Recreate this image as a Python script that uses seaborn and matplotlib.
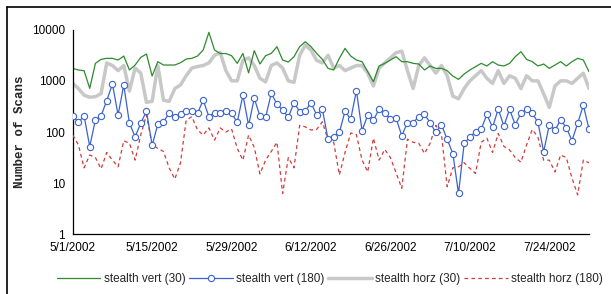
import numpy as np
import pandas as pd
import matplotlib
matplotlib.use("Agg")
import matplotlib.pyplot as plt
from matplotlib.lines import Line2D
import seaborn as sns

# daily values, 5/1/2002 .. 7/31/2002
dates = pd.date_range("2002-05-01", "2002-07-31", freq="D")

vert_30 = [1755, 1629, 1580, 713, 2198, 2633, 2753, 2753, 2553, 3055,
           1629, 2039, 2879, 3343, 1242, 2370, 2039, 2039, 2039, 2263,
           2672, 2753, 3055, 4006, 8870, 4006, 3420, 3420, 3105, 2198,
           3440, 1432, 3890, 2134, 3105, 3440, 4655, 2553, 2334, 2966,
           4655, 5826, 4655, 3440, 2633, 1755, 1629, 2753, 4316, 3055,
           2553, 2370, 1509, 963, 1950, 2198, 2553, 2966, 2370, 2370,
           2198, 2134, 1629, 1950, 1755, 1755, 1580, 1242, 1069, 1361,
           1629, 1892, 2198, 1950, 2370, 2039, 1950, 2198, 2966, 3714,
           2633, 2370, 1950, 2134, 1755, 2039, 2370, 1950, 2370, 2753,
           2553, 1509]

vert_180 = [208, 155, 208, 52, 172, 208, 410, 867, 215, 829,
            148, 81, 148, 257, 55, 141, 159, 232, 200, 221,
            257, 257, 232, 422, 200, 239, 232, 257, 232, 155,
            528, 135, 455, 205, 194, 570, 352, 269, 194, 374,
            250, 257, 374, 215, 282, 72, 81, 98, 257, 177,
            642, 106, 215, 172, 277, 232, 180, 185, 85, 152,
            152, 200, 221, 152, 98, 139, 72, 38, 6.3, 60,
            79, 102, 114, 221, 123, 282, 131, 277, 139, 232,
            277, 232, 155, 41, 137, 109, 172, 122, 68, 148,
            332, 114]

horz_30_log = [2.95, 2.85, 2.72, 2.68, 2.69, 2.75, 3.35, 3.30, 3.20, 3.30,
               2.80, 3.25, 3.15, 2.58, 2.60, 3.30, 2.62, 2.60, 2.85, 2.92,
               3.10, 3.25, 3.28, 3.30, 3.35, 3.50, 3.55, 3.20, 3.00, 3.00,
               3.40, 3.45, 3.30, 3.05, 2.98, 3.30, 3.35, 3.25, 3.00, 2.97,
               3.50, 3.70, 3.60, 3.40, 3.35, 3.50, 3.25, 3.30, 3.20, 3.25,
               3.30, 3.30, 3.15, 2.90, 3.25, 3.35, 3.45, 3.55, 3.58, 3.20,
               2.85, 3.30, 3.45, 3.30, 3.15, 3.30, 3.10, 2.70, 2.65, 2.85,
               3.00, 3.10, 3.20, 3.05, 2.95, 3.20, 2.95, 3.10, 3.05, 2.85,
               3.10, 3.00, 3.00, 2.75, 2.48, 2.90, 3.00, 3.00, 2.95, 3.05,
               3.15, 2.85]

horz_180_log = [1.94, 1.75, 1.30, 1.55, 1.50, 1.28, 1.60, 1.45, 1.32, 1.83,
                1.78, 1.45, 1.95, 2.33, 1.75, 1.68, 1.62, 1.30, 1.08, 1.40,
                2.23, 2.30, 2.04, 1.94, 2.08, 1.84, 2.08, 2.00, 2.06, 1.68,
                1.45, 1.94, 1.70, 1.18, 1.45, 1.62, 1.80, 0.80, 1.50, 1.30,
                2.13, 2.10, 2.04, 2.05, 2.20, 1.85, 1.80, 1.16, 1.60, 1.98,
                1.95, 1.45, 1.22, 1.88, 1.45, 1.66, 1.50, 1.20, 0.90, 1.86,
                1.80, 1.78, 1.58, 1.78, 2.13, 1.95, 0.93, 1.30, 1.32, 1.40,
                1.29, 1.19, 1.80, 1.88, 1.60, 1.97, 1.72, 1.65, 1.50, 1.41,
                1.75, 2.05, 1.90, 1.45, 1.45, 1.22, 1.55, 1.50, 1.10, 0.77,
                1.45, 1.40]

horz_30 = [10 ** v for v in horz_30_log]
horz_180 = [10 ** v for v in horz_180_log]

tick_dates = pd.to_datetime(["2002-05-01", "2002-05-15", "2002-05-29", "2002-06-12",
                             "2002-06-26", "2002-07-10", "2002-07-24"])
tick_labels = ["5/1/2002", "5/15/2002", "5/29/2002", "6/12/2002",
               "6/26/2002", "7/10/2002", "7/24/2002"]
y_ticks = [1, 10, 100, 1000, 10000]
y_labels = ["1", "10", "100", "1000", "10000"]

GREEN, BLUE, GRAY, RED = "#2e8b2e", "#3a63d0", "#c8c8c8", "#d23c3c"

sns.set_style("white")
plt.rcParams["font.family"] = ["Liberation Sans", "DejaVu Sans"]

fig = plt.figure(figsize=(6.11, 2.94), dpi=100)
ax = fig.add_axes([0.119, 0.203, 0.845, 0.696])

sns.lineplot(x=dates, y=horz_30, ax=ax, color=GRAY, lw=2.5, zorder=1)
sns.lineplot(x=dates, y=vert_30, ax=ax, color=GREEN, lw=0.9, zorder=2)
sns.lineplot(x=dates, y=horz_180, ax=ax, color=RED, lw=0.9,
             dashes=(3, 2.5), zorder=3)
sns.lineplot(x=dates, y=vert_180, ax=ax, color=BLUE, lw=0.9, marker="o",
             markersize=4.5, markerfacecolor="white", markeredgecolor=BLUE,
             markeredgewidth=0.8, zorder=4)

ax.set_yscale("log")
ax.set_ylim(1, 10000)
ax.set_yticks(y_ticks)
ax.set_yticklabels(y_labels)
ax.yaxis.set_minor_locator(matplotlib.ticker.NullLocator())
ax.set_xlim(dates[0], dates[-1])
ax.set_xticks(tick_dates)
ax.set_xticklabels(tick_labels)

for s in ["top", "right"]:
    ax.spines[s].set_visible(False)
for s in ["left", "bottom"]:
    ax.spines[s].set_color("black")
    ax.spines[s].set_linewidth(0.9)
ax.tick_params(axis="both", direction="inout", length=5, width=0.9,
               labelsize=8.5, colors="black", pad=3)
ax.set_ylabel("Number of Scans", family="Liberation Mono", fontsize=9,
              fontweight="bold", labelpad=4)
ax.set_xlabel("")

handles = [
    Line2D([], [], color=GREEN, lw=0.9),
    Line2D([], [], color=BLUE, lw=0.9, marker="o", markersize=4.5,
           markerfacecolor="white", markeredgecolor=BLUE, markeredgewidth=0.8),
    Line2D([], [], color=GRAY, lw=2.5),
    Line2D([], [], color=RED, lw=0.9, dashes=(3, 2.5)),
]
labels = ["stealth vert (30)", "stealth vert (180)", "stealth horz (30)", "stealth horz (180)"]
fig.legend(handles, labels, loc="center", bbox_to_anchor=(0.54, 0.052), ncol=4,
           frameon=False, fontsize=8.5, handlelength=3.7, handletextpad=0.3,
           columnspacing=0.3)

# outer frame (left and top edges visible)
fig.add_artist(Line2D([0.012, 0.012], [0.0, 0.976], color="black", lw=1.2))
fig.add_artist(Line2D([0.012, 1.0], [0.976, 0.976], color="black", lw=1.2))

fig.savefig("out.png", dpi=100)
